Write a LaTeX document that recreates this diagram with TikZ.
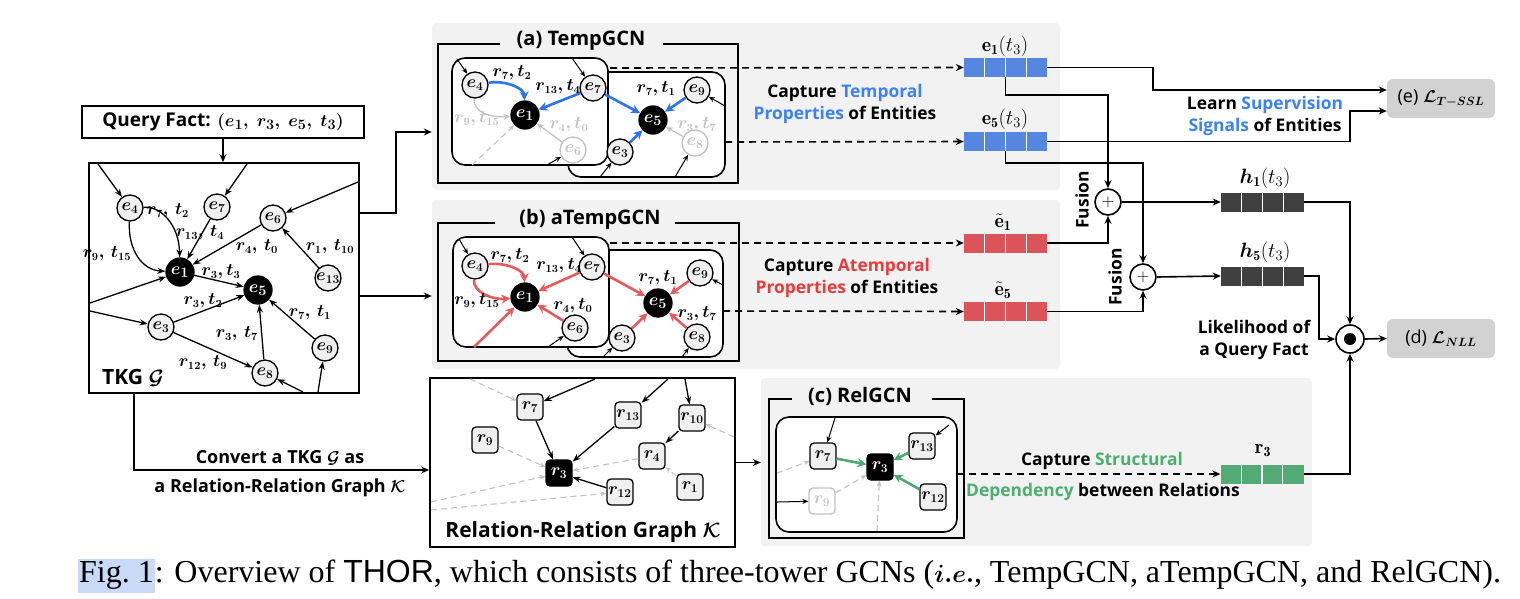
\documentclass[tikz,border=0pt]{standalone}
\usepackage{amsmath}
\usepackage{fontspec}
\usetikzlibrary{arrows.meta,calc}
\newfontfamily\nsans{Open Sans}
\newfontfamily\capserif{Liberation Serif}
\newfontfamily\capsans{Liberation Sans}
\definecolor{panelgray}{RGB}{242,242,242}
\definecolor{nodefill}{RGB}{240,240,240}
\definecolor{fadec}{RGB}{195,195,195}
\definecolor{bluee}{RGB}{45,115,240}
\definecolor{bluet}{RGB}{60,130,245}
\definecolor{bluev}{RGB}{85,134,224}
\definecolor{rede}{RGB}{228,90,95}
\definecolor{redt}{RGB}{232,60,60}
\definecolor{redv}{RGB}{219,84,89}
\definecolor{greene}{RGB}{75,170,110}
\definecolor{greent}{RGB}{76,175,110}
\definecolor{greenv}{RGB}{84,170,116}
\definecolor{hvec}{RGB}{64,64,64}
\definecolor{lossfill}{RGB}{210,210,210}
\definecolor{hlblue}{RGB}{200,218,248}
\tikzset{
  every node/.style={inner sep=0pt},
  ent/.style={circle,draw,line width=1.3pt,fill=nodefill,minimum size=26pt,font=\fontsize{17}{17}\selectfont\boldmath},
  entq/.style={ent,fill=black,text=white,minimum size=28pt,font=\fontsize{19}{19}\selectfont\boldmath},
  entf/.style={ent,draw=fadec,text=fadec,fill=white},
  rel/.style={rectangle,rounded corners=4pt,draw,line width=1.3pt,fill=nodefill,minimum size=26pt,font=\fontsize{18}{18}\selectfont\boldmath},
  relq/.style={rel,fill=black,text=white},
  relf/.style={rel,draw=fadec,text=fadec,fill=white},
  lab/.style={font=\fontsize{16}{16}\selectfont\boldmath},
  labf/.style={lab,text=fadec},
  arr/.style={line width=1.3pt,-{Stealth[length=8pt,width=6pt]}},
  sarr/.style={line width=1pt,-{Stealth[length=6pt,width=5pt]}},
  conn/.style={line width=1.6pt,-{Stealth[length=8pt,width=7pt]}},
  dsh/.style={line width=1.6pt,dash pattern=on 7pt off 5pt,-{Stealth[length=8pt,width=7pt]}},
  gdsh/.style={line width=1.1pt,draw=fadec,dash pattern=on 6pt off 4pt,-{Stealth[length=6pt,width=5pt]}},
  garr/.style={line width=1.3pt,draw=fadec,-{Stealth[length=7pt,width=6pt]}},
  barr/.style={line width=2.6pt,draw=bluee,-{Stealth[length=9pt,width=9pt]}},
  rarr/.style={line width=2.6pt,draw=rede,-{Stealth[length=9pt,width=9pt]}},
  grarr/.style={line width=2.6pt,draw=greene,-{Stealth[length=9pt,width=9pt]}},
  panel/.style={fill=panelgray,rounded corners=4pt,draw=none},
  ibox/.style={draw,line width=1.6pt,fill=white,rounded corners=13pt},
  fr/.style={line width=1.6pt},
  vec/.style={rectangle,minimum width=83pt,minimum height=19pt,fill=#1,draw=none,
    path picture={\foreach \k in {1,2,3}{\draw[white,line width=1.3pt] ([xshift=\k*20.75pt]path picture bounding box.south west) -- ([xshift=\k*20.75pt]path picture bounding box.north west);}}},
  vlab/.style={font=\fontsize{20}{20}\selectfont},
  ttl/.style={font=\nsans\bfseries\fontsize{20}{20}\selectfont},
  txt/.style={font=\nsans\bfseries\fontsize{17.4}{22}\selectfont,align=center},
  cvt/.style={font=\nsans\bfseries\fontsize{18}{18}\selectfont\boldmath},
  fus/.style={circle,draw,line width=1.6pt,fill=white,minimum size=26pt,font=\fontsize{16}{16}\selectfont\bfseries},
  loss/.style={rectangle,rounded corners=6pt,fill=lossfill,minimum width=108pt,minimum height=39pt,font=\nsans\fontsize{18}{18}\selectfont\boldmath},
}
\begin{document}
\begin{tikzpicture}[x=1pt,y=-1pt]
\fill[white] (0,0) rectangle (1520,598);
\useasboundingbox (0,0) rectangle (1520,598);

% ---------------- TKG ----------------
\node[draw,line width=1.8pt,minimum width=282pt,minimum height=32pt,font=\nsans\bfseries\fontsize{19}{19}\selectfont\boldmath] (qf) at (223,122) {Query Fact: $(e_1,\ r_3,\ e_5,\ t_3)$};
\node[draw,line width=1.8pt,minimum width=270pt,minimum height=230pt] (tkg) at (224,278) {};
\draw[conn] (qf.south) -- (qf.south |- tkg.north);

\node[ent] (e4) at (130,208) {$e_4$};
\node[ent] (e7) at (217,207) {$e_7$};
\node[ent] (e6) at (273,218) {$e_6$};
\node[entq] (e1) at (180,272) {$e_1$};
\node[entq] (e5) at (258,290) {$e_5$};
\node[ent] (e13) at (328,278) {$e_{13}$};
\node[ent] (e3) at (161,327) {$e_3$};
\node[ent] (e8) at (265,373) {$e_8$};
\node[ent] (e9) at (325,348) {$e_9$};
\coordinate (k1) at (98,164);
\coordinate (k2) at (247,164);
\coordinate (k3) at (358,182);
\coordinate (k4) at (90,303);
\coordinate (k5) at (90,311);
\coordinate (k6) at (303,392);
\coordinate (k7) at (318,392);
\draw[arr] (k1) -- (e4);
\draw[arr] (k2) -- (e7);
\draw[arr] (k3) -- (e6);
\draw[arr] (e4) .. controls (162,206) and (179,226) .. (e1);
\draw[arr] (e4) .. controls (128,250) and (142,270) .. (e1);
\draw[arr] (e7) -- (e1);
\draw[arr] (e6) -- (e1);
\draw[arr] (e13) -- (e6);
\draw[arr] (e1) -- (e5);
\draw[arr] (k4) -- (e1);
\draw[arr] (k5) -- (e3);
\draw[arr] (e3) -- (e5);
\draw[arr] (e3) -- (e8);
\draw[arr] (e8) -- (e5);
\draw[arr] (e9) -- (e5);
\draw[arr] (k6) -- (e8);
\draw[arr] (k7) -- (e9);
\node[lab] (l1) at (168,211) {$r_7,\,t_2$};
\node[lab] (l2) at (200,233) {$r_{13},\,t_4$};
\node[lab] (l3) at (107,254) {$r_9,\,t_{15}$};
\node[lab] (l4) at (257,247) {$r_4,\,t_0$};
\node[lab] (l5) at (330,247) {$r_1,\,t_{10}$};
\node[lab] (l6) at (221,272) {$r_3,t_3$};
\node[lab] (l7) at (203,301) {$r_3,t_2$};
\node[lab] (l8) at (310,313) {$r_7,\,t_1$};
\node[lab] (l9) at (237,334) {$r_3,\,t_7$};
\node[lab] (l10) at (203,363) {$r_{12},\,t_9$};
\node[font=\nsans\bfseries\fontsize{21}{21}\selectfont\boldmath] (tkgt) at (133,378) {TKG $\mathcal{G}$};

% ---------------- (a) TempGCN ----------------
\node[panel,minimum width=628pt,minimum height=167pt] (pa) at (746,106.5) {};
\draw[fr] (500,44) -- (438,44) -- (438,183) -- (738,183) -- (738,44) -- (663,44);
\node[ttl] (ta) at (581,41) {(a) TempGCN};
\draw[ibox] (568,72) rectangle (725,177);
\draw[ibox] (452,58) rectangle (608,165);
\node[ent] (a4) at (475,85) {$e_4$};
\node[ent] (a7) at (593,88) {$e_7$};
\node[entq] (a1) at (525,115) {$e_1$};
\node[entf] (a6) at (573,150) {$e_6$};
\node[ent] (a3) at (620,152) {$e_3$};
\node[entq] (a5) at (653,120) {$e_5$};
\node[ent] (a9) at (697,90) {$e_9$};
\node[entf] (a8) at (695,143) {$e_8$};
\coordinate (ga0) at (472,165);
\coordinate (ga1) at (457,59);
\coordinate (ga2) at (572,58);
\coordinate (ga3) at (547,165);
\coordinate (ga4) at (600,177);
\coordinate (ga5) at (675,177);
\coordinate (ga6) at (725,106);
\draw[garr] (a4) .. controls (473,112) and (490,118) .. (a1);
\draw[garr] (a6) -- (a1);
\draw[garr] (a8) -- (a5);
\draw[gdsh] (ga0) -- (a1);
\draw[barr] (a4) .. controls (505,80) and (524,88) .. (a1);
\draw[barr] (a7) -- (a1);
\draw[barr] (a7) -- (a5);
\draw[barr] (a9) -- (a5);
\draw[barr] (a3) -- (a5);
\draw[sarr] (ga1) -- (a4);
\draw[sarr] (ga2) -- (a7);
\draw[sarr] (ga3) -- (a6);
\draw[sarr] (ga4) -- (a3);
\draw[sarr] (ga5) -- (a8);
\draw[sarr] (ga6) -- (a9);
\node[lab] (la1) at (512,73) {$r_7,t_2$};
\node[lab] (la2) at (558,87) {$r_{13},t_4$};
\node[labf] (la3) at (477,119) {$r_9,t_{15}$};
\node[labf] (la4) at (569,125) {$r_4,t_0$};
\node[lab] (la5) at (656,89) {$r_7,t_1$};
\node[labf] (la6) at (697,125) {$r_3,t_7$};
\node[vec=bluev] (v1) at (1005.5,67.5) {};
\node[vec=bluev] (v5) at (1005.5,141.5) {};
\node[vlab] (v1l) at (1005,46) {$\mathbf{e}_{\mathbf{1}}(t_3)$};
\node[vlab] (v5l) at (1005,119) {$\mathbf{e}_{\mathbf{5}}(t_3)$};
\coordinate (da1) at (610,68);
\coordinate (da2) at (725,142);
\draw[dsh] (da1) -- (v1.west);
\draw[dsh] (da2) -- (v5.west);
\node[txt] (ct1) at (845,104) {Capture \textcolor{bluet}{Temporal}\\\textcolor{bluet}{Properties} of Entities};

% ---------------- (b) aTempGCN ----------------
\node[panel,minimum width=628pt,minimum height=169pt] (pb) at (746,284.5) {};
\draw[fr] (495,223) -- (438,223) -- (438,361) -- (739,361) -- (739,223) -- (675,223);
\node[ttl] (tb) at (590,219) {(b) aTempGCN};
\draw[ibox] (567,250) rectangle (723,357);
\draw[ibox] (453,237) rectangle (609,347);
\node[ent] (b4) at (475,266) {$e_4$};
\node[ent] (b7) at (592,267) {$e_7$};
\node[entq] (b1) at (525,297) {$e_1$};
\node[ent] (b6) at (575,328) {$e_6$};
\node[ent] (b3) at (622,338) {$e_3$};
\node[entq] (b5) at (658,303) {$e_5$};
\node[ent] (b9) at (700,273) {$e_9$};
\node[ent] (b8) at (697,337) {$e_8$};
\coordinate (gb0) at (474,347);
\coordinate (gb1) at (459,239);
\coordinate (gb2) at (572,237);
\coordinate (gb3) at (548,347);
\coordinate (gb4) at (603,357);
\coordinate (gb5) at (682,357);
\coordinate (gb6) at (723,285);
\draw[rarr] (b4) .. controls (505,262) and (524,270) .. (b1);
\draw[rarr] (b4) .. controls (473,292) and (492,300) .. (b1);
\draw[rarr] (b7) -- (b1);
\draw[rarr] (b6) -- (b1);
\draw[rarr] (gb0) -- (b1);
\draw[rarr] (b7) -- (b5);
\draw[rarr] (b9) -- (b5);
\draw[rarr] (b3) -- (b5);
\draw[rarr] (b8) -- (b5);
\draw[sarr] (gb1) -- (b4);
\draw[sarr] (gb2) -- (b7);
\draw[sarr] (gb3) -- (b6);
\draw[sarr] (gb4) -- (b3);
\draw[sarr] (gb5) -- (b8);
\draw[sarr] (gb6) -- (b9);
\node[lab] (lb1) at (510,256) {$r_7,t_2$};
\node[lab] (lb2) at (559,266) {$r_{13},t_4$};
\node[lab] (lb3) at (477,301) {$r_9,t_{15}$};
\node[lab] (lb4) at (573,306) {$r_4,t_0$};
\node[lab] (lb5) at (658,278) {$r_7,t_1$};
\node[lab] (lb6) at (697,314) {$r_3,t_7$};
\node[vec=redv] (w1) at (1005.5,243) {};
\node[vec=redv] (w5) at (1005.5,311.5) {};
\node[vlab] (w1l) at (1003,222) {$\tilde{\mathbf{e}}_{\mathbf{1}}$};
\node[vlab] (w5l) at (1003,290) {$\tilde{\mathbf{e}}_{\mathbf{5}}$};
\coordinate (db1) at (610,243);
\coordinate (db2) at (723,311);
\draw[dsh] (db1) -- (w1.west);
\draw[dsh] (db2) -- (w5.west);
\node[txt] (ct2) at (847,278) {Capture \textcolor{redt}{Atemporal}\\\textcolor{redt}{Properties} of Entities};

% ---------------- TKG connectors ----------------
\draw[conn] ([yshift=65pt]tkg.east) -- ++(36,0) |- ([yshift=-25.5pt]pa.west);
\draw[conn] ([yshift=-18pt]tkg.east) -- ([yshift=-11.5pt]pb.west);

% ---------------- Relation-Relation graph ----------------
\node[draw,line width=1.8pt,minimum width=305pt,minimum height=169pt] (rg) at (582.5,462.5) {};
\draw[conn] ([xshift=-90pt]tkg.south) |- ([yshift=-7.5pt]rg.west);
\node[cvt] (cv1) at (280,458) {Convert a TKG $\mathcal{G}$ as};
\node[cvt] (cv2) at (280,488) {a Relation-Relation Graph $\mathcal{K}$};
\node[rel] (q7) at (530,407) {$r_7$};
\node[rel] (q9) at (485,440) {$r_9$};
\node[rel] (q13) at (628,415) {$r_{13}$};
\node[rel] (q10) at (692,418) {$r_{10}$};
\node[rel] (q4) at (652,456) {$r_4$};
\node[relq] (q3) at (559,473) {$r_3$};
\node[rel] (q12) at (620,492) {$r_{12}$};
\node[rel] (q1) at (690,487) {$r_1$};
\coordinate (gr1) at (595,379);
\coordinate (gr2) at (668,379);
\coordinate (gr3) at (685,379);
\coordinate (gr4) at (470,379);
\coordinate (gr5) at (734,437);
\coordinate (gr6) at (431,502);
\coordinate (gr7) at (431,510);
\draw[gdsh] (gr4) -- (q7);
\draw[gdsh] (q9) -- (q3);
\draw[gdsh] (q4) -- (q3);
\draw[gdsh] (q1) -- (q4);
\draw[gdsh] (gr5) -- (q10);
\draw[gdsh] (gr6) -- (q3);
\draw[gdsh] (gr7) -- (q12);
\draw[arr] (gr1) -- (q7);
\draw[arr] (q7) -- (q3);
\draw[arr] (q13) -- (q3);
\draw[arr] (gr2) -- (q13);
\draw[arr] (gr3) -- (q10);
\draw[arr] (q10) -- (q4);
\draw[arr] (q12) -- (q3);
\node[font=\nsans\bfseries\fontsize{21}{21}\selectfont\boldmath] (rgt) at (583,532) {Relation-Relation Graph $\mathcal{K}$};

% ---------------- (c) RelGCN ----------------
\node[panel,minimum width=551pt,minimum height=168pt] (pc) at (1036.5,462) {};
\draw[conn] (rg.east) -- (rg.east -| pc.west);
\draw[fr] (792,399) -- (769,399) -- (769,538) -- (964,538) -- (964,399) -- (932,399);
\node[ttl] (tc) at (860,396) {(c) RelGCN};
\draw[ibox] (776,417) rectangle (957,532);
\node[rel] (c7) at (823,456) {$r_7$};
\node[relq] (c3) at (880,467) {$r_3$};
\node[rel] (c13) at (922,446) {$r_{13}$};
\node[rel] (c12) at (933,497) {$r_{12}$};
\node[relf] (c9) at (822,501) {$r_9$};
\coordinate (gc1) at (835,418);
\coordinate (gc2) at (949,425);
\coordinate (gc3) at (777,502);
\coordinate (gc4) at (777,473);
\coordinate (gc5) at (877,531);
\draw[gdsh] (gc4) -- (c7);
\draw[gdsh] (c9) -- (c3);
\draw[gdsh] (gc5) -- (c3);
\draw[sarr] (gc1) -- (c7);
\draw[sarr] (gc2) -- (c13);
\draw[sarr] (gc3) -- (c9);
\draw[grarr] (c7) -- (c3);
\draw[grarr] (c13) -- (c3);
\draw[grarr] (c12) -- (c3);
\node[vec=greenv] (r3v) at (1262,474) {};
\node[vlab] (r3l) at (1263,451) {$\mathbf{r}_{\mathbf{3}}$};
\coordinate (dc1) at (957,474);
\draw[dsh] (dc1) -- (r3v.west);
\node[txt] (cs1) at (1102,461) {Capture \textcolor{greent}{Structural}};
\node[txt] (cs2) at (1103,492) {\textcolor{greent}{Dependency} between Relations};

% ---------------- fusion and losses ----------------
\node[fus] (f1) at (1108,202) {$+$};
\node[fus] (f2) at (1143,277) {$+$};
\node[circle,draw,line width=1.6pt,fill=white,minimum size=28pt,path picture={\fill[black] (path picture bounding box.center) circle (6pt);}] (od) at (1350,339) {};
\node[vec=hvec] (h1) at (1262.5,202) {};
\node[vec=hvec] (h5) at (1262.5,276) {};
\node[vlab] (h1l) at (1265,178) {$\boldsymbol{h}_{\mathbf{1}}(t_3)$};
\node[vlab] (h5l) at (1265,252) {$\boldsymbol{h}_{\mathbf{5}}(t_3)$};
\node[loss] (lt) at (1441,98.5) {(e) $\boldsymbol{\mathcal{L}}_{T-SSL}$};
\node[loss] (ln) at (1441,338.5) {(d) $\boldsymbol{\mathcal{L}}_{NLL}$};
\node[txt,rotate=90] (fu1) at (1082,200) {Fusion};
\node[txt,rotate=90] (fu2) at (1115,277) {Fusion};
\node[txt] (ls) at (1265,116) {Learn \textcolor{bluet}{Supervision}\\\textcolor{bluet}{Signals} of Entities};
\node[txt] (lk) at (1254,340) {Likelihood of\\a Query Fact};

\draw[conn] (v1.east) -- ++(106,0) |- ([yshift=8.5pt]lt.west);
\draw[conn] (v1.south) -- ++(0,18) -| (f1.north);
\draw[conn] (v5.east) -- ++(303,0) |- ([yshift=-12.5pt]lt.west);
\draw[conn] (v5.south) -- ++(0,12) -| (f2.north);
\draw[conn] (w1.east) -| (f1.south);
\draw[conn] (w5.east) -| (f2.south);
\draw[conn] (f1.east) -- (h1.west);
\draw[conn] (f2.east) -- (h5.west);
\draw[conn] (h1.east) -| (od.north);
\draw[conn] (h5.east) -- ++(15,0) |- (od.west);
\draw[conn] (r3v.east) -| (od.south);
\draw[conn] (od.east) -- (ln.west);

% ---------------- caption ----------------
\node[anchor=base west,font=\capserif\fontsize{32}{32}\selectfont] (cap) at (78,582) {{\fboxsep=1pt\colorbox{hlblue}{\strut Fig.~1}}: Overview of {\capsans THOR}, which consists of three-tower GCNs ({\boldmath$i.e.$}, TempGCN, aTempGCN, and RelGCN).};
\end{tikzpicture}
\end{document}
